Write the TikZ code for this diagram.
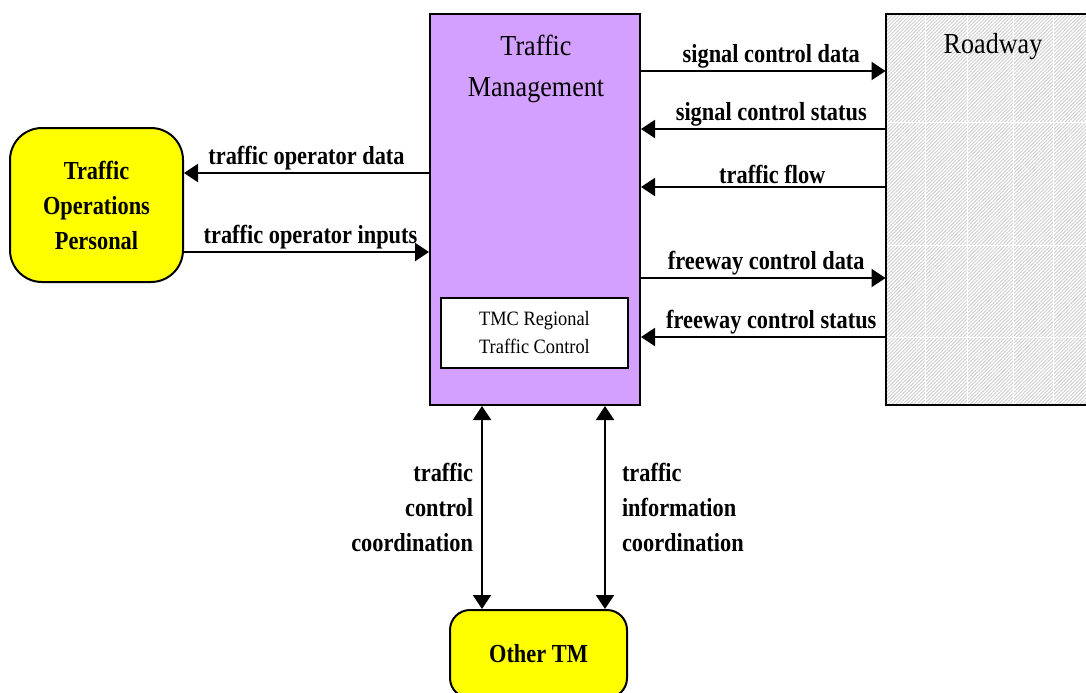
\documentclass[tikz,border=0pt]{standalone}
\usepackage{fontspec}
\setmainfont{Liberation Serif}
\newfontfamily\labelfont[FakeStretch=0.86]{Liberation Serif}
\newfontfamily\boxfont[FakeStretch=0.9]{Liberation Serif}
\usetikzlibrary{arrows,arrows.meta,positioning,shapes,calc,patterns.meta}
\definecolor{tmpurple}{RGB}{212,160,255}
\definecolor{extyellow}{RGB}{255,255,0}
\definecolor{hatchgray}{RGB}{205,205,205}

\tikzset{
  flow/.style={line width=1pt, >={Triangle[length=7pt,width=9pt]}},
  flowlabel/.style={font=\labelfont\bfseries\fontsize{13}{17.5}\selectfont, inner sep=1pt},
  tmbox/.style={draw, line width=1pt, fill=tmpurple, minimum width=105pt, minimum height=195.5pt},
  tmcbox/.style={draw, line width=1pt, fill=white, minimum width=93.5pt, minimum height=35pt,
    align=center, font=\boxfont\fontsize{10.2}{14}\selectfont},
  roadbox/.style={pattern={Lines[angle=45,distance=1.25pt,line width=0.45pt]},
    pattern color=hatchgray, minimum width=107pt, minimum height=195.5pt},
  extbox/.style={draw, line width=1pt, fill=extyellow, align=center,
    font=\labelfont\bfseries\fontsize{13}{17.5}\selectfont},
  titletext/.style={align=center, inner sep=0pt, font=\boxfont\fontsize{14.5}{20.5}\selectfont},
  gridline/.style={white, line width=0.5pt}
}

\begin{document}
\begin{tikzpicture}[x=0.5pt, y=-0.5pt]
        \useasboundingbox (0,0) rectangle (1086,692);
        \clip (0,0) rectangle (1086,692);
        %nodes
        \node[tmbox] (tm) at (535,209.5) {};
        \node[titletext] (tmtitle) at (536,69) {Traffic\\Management};
        \node[tmcbox] (tmc) at (534.5,333) {TMC Regional\\Traffic Control};
        \node[roadbox] (road) at (993,209.5) {};
        \foreach \gx in {925,967,1013,1053}
          \draw[gridline] (\gx,15) -- (\gx,404);
        \foreach \gy in {122,245,337}
          \draw[gridline] (887,\gy) -- (1086,\gy);
        \draw[line width=1pt] (road.north west) rectangle (road.south east);
        \node[titletext] (roadtitle) at (993,47) {Roadway};
        \node[extbox, minimum width=86.5pt, minimum height=77pt, rounded corners=16pt] (top) at (96.5,205) {Traffic\\Operations\\Personal};
        \node[extbox, minimum width=88.5pt, minimum height=44pt, rounded corners=10pt] (other) at (538.5,654) {Other TM};
        %edges
        \path [draw, flow, ->] (tm.east |- 0,71) to node[flowlabel, above, xshift=4pt]{signal control data} (road.west |- 0,71);
        \path [draw, flow, ->] (road.west |- 0,129) to node[flowlabel, above, xshift=4pt]{signal control status} (tm.east |- 0,129);
        \path [draw, flow, ->] (road.west |- 0,187) to node[flowlabel, above, xshift=4.5pt]{traffic flow} (tm.east |- 0,187);
        \path [draw, flow, ->] (tm.east |- 0,278) to node[flowlabel, above, xshift=1.5pt]{freeway control data} (road.west |- 0,278);
        \path [draw, flow, ->] (road.west |- 0,337) to node[flowlabel, above, xshift=4pt]{freeway control status} (tm.east |- 0,337);
        \path [draw, flow, ->] (tm.west |- 0,173) to node[flowlabel, above]{traffic operator data} (top.east |- 0,173);
        \path [draw, flow, ->] (top.east |- 0,252) to node[flowlabel, above, xshift=2pt]{traffic operator inputs} (tm.west |- 0,252);
        \path [draw, flow, <->] (482,0 |- tm.south) to node[flowlabel, left=3pt, align=right]{traffic\\control\\coordination} (482,0 |- other.north);
        \path [draw, flow, <->] (605,0 |- tm.south) to node[flowlabel, right=7pt, align=left]{traffic\\information\\coordination} (605,0 |- other.north);
      \end{tikzpicture}
\end{document}
